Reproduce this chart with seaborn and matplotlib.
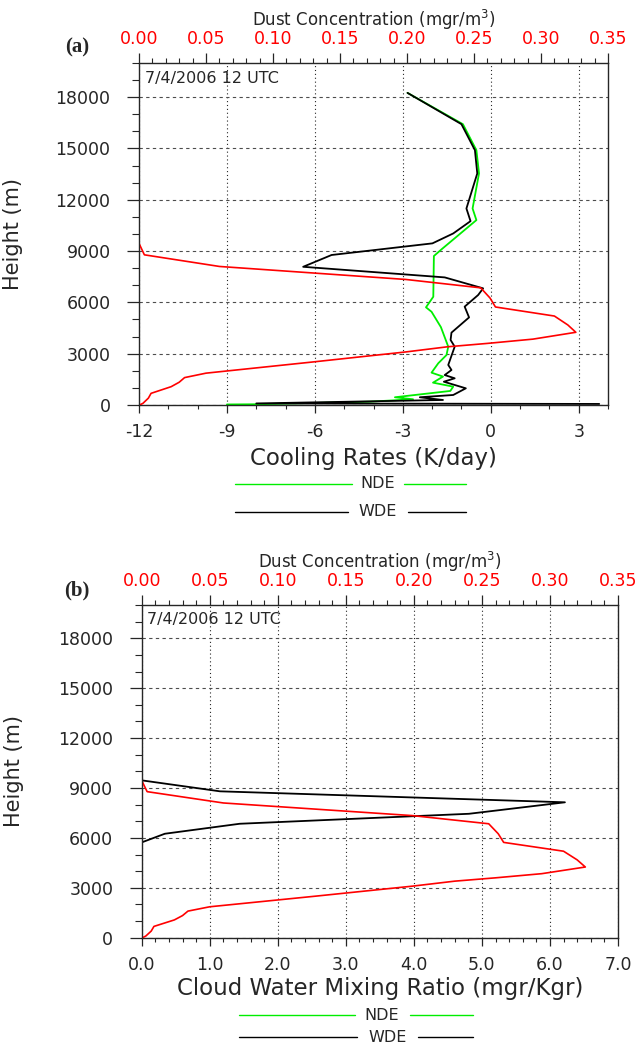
import matplotlib
matplotlib.use("Agg")
import matplotlib.pyplot as plt
from matplotlib.lines import Line2D
from matplotlib.ticker import MultipleLocator, FormatStrFormatter
import seaborn as sns

# ---- vertical profiles, 7/4/2006 12 UTC (height in metres) ----
# Cooling rates (K/day), no-dust experiment
nde_height = [18250, 16420, 14900, 13540, 11490, 10810, 9100, 8710, 6330, 5710,
              5450, 4550, 3410, 2920, 2440, 1890, 1660, 1305, 1071, 820,
              450, 333, 193, 41, 30]
nde_cooling = [-2.84, -0.95, -0.49, -0.40, -0.62, -0.49, -1.68, -1.94, -1.96, -2.21,
               -2.02, -1.70, -1.45, -1.51, -1.79, -2.02, -1.63, -1.97, -1.28, -1.38,
               -3.27, -2.65, -4.12, -7.99, -9.00]

# Cooling rates (K/day), with-dust experiment
wde_height = [18250, 16420, 14900, 13540, 11490, 10750, 10030, 9450, 8770, 8080,
              7460, 6820, 6430, 5750, 5120, 4230, 3800, 3410, 2340, 2045,
              1750, 1560, 1360, 974, 584, 450, 292, 90, 60]
wde_cooling = [-2.84, -1.00, -0.54, -0.46, -0.83, -0.69, -1.28, -1.99, -5.43, -6.40,
               -1.57, -0.26, -0.43, -0.89, -0.74, -1.34, -1.37, -1.23, -1.45, -1.34,
               -1.57, -1.23, -1.60, -0.85, -1.28, -2.42, -1.63, -8.00, 3.70]

# Dust concentration (mgr/m3)
dust_height = [18250, 9450, 8780, 8100, 7340, 6850, 6250, 5730, 5200, 4680,
               4250, 3850, 3600, 3400, 3100, 2500, 1860, 1600, 1330, 1070,
               680, 400, 100, 0]
dust_conc = [0.0, 0.0, 0.004, 0.060, 0.199, 0.255, 0.262, 0.266, 0.310, 0.320,
             0.326, 0.294, 0.260, 0.230, 0.199, 0.128, 0.050, 0.034, 0.030, 0.024,
             0.009, 0.007, 0.003, 0.0005]

# Cloud water mixing ratio (mgr/Kgr)
cw_nde_height = [18250, 0]
cw_nde = [0.0, 0.0]
cw_wde_height = [18250, 9460, 8800, 8140, 7450, 6850, 6250, 5730, 0]
cw_wde = [0.0, 0.0, 1.15, 6.22, 4.81, 1.44, 0.34, 0.0, 0.0]

height_ticks = [0, 3000, 6000, 9000, 12000, 15000, 18000]
cooling_ticks = [-12, -9, -6, -3, 0, 3]
cloud_ticks = [0, 1, 2, 3, 4, 5, 6, 7]
dust_ticks = [0.00, 0.05, 0.10, 0.15, 0.20, 0.25, 0.30, 0.35]
time_label = "7/4/2006 12 UTC"
panel_tags = ["(a)", "(b)"]
series_names = ["NDE", "WDE"]

GREEN = "#00ee00"
RED = "#ff0000"

sns.set_style("ticks")
plt.rcParams["font.family"] = ["DejaVu Sans"]
plt.rcParams["axes.unicode_minus"] = False

fig = plt.figure(figsize=(6.4, 10.44), dpi=100)

ax_a = fig.add_axes([0.2172, 0.6121, 0.7328, 0.3276])
ax_b = fig.add_axes([0.2214, 0.1018, 0.7442, 0.3187])

TICK_FS = 12.5


def style_panel(ax, xlim, xticks, xminor, xfmt, xlabel, xlabel_pad):
    ax.set_xlim(*xlim)
    ax.set_ylim(0, 20000)
    ax.set_xticks(xticks)
    ax.xaxis.set_minor_locator(MultipleLocator(xminor))
    ax.xaxis.set_major_formatter(FormatStrFormatter(xfmt))
    ax.set_yticks(height_ticks)
    ax.yaxis.set_minor_locator(MultipleLocator(1000))
    ax.tick_params(axis="x", which="major", direction="out", length=6, width=0.9,
                   pad=7, labelsize=TICK_FS, top=False)
    ax.tick_params(axis="x", which="minor", direction="out", length=3, width=0.8,
                   top=False)
    ax.tick_params(axis="y", which="major", direction="out", length=8.5, width=0.9,
                   pad=12, labelsize=TICK_FS, right=False)
    ax.tick_params(axis="y", which="minor", direction="out", length=5, width=0.8,
                   right=False)
    ax.xaxis.grid(True, which="major", linestyle=(0, (1, 2.5)), color="0.15",
                  linewidth=0.8)
    ax.yaxis.grid(True, which="major", linestyle=(0, (3, 3)), color="0.3",
                  linewidth=0.8)
    ax.set_axisbelow(True)
    for sp in ax.spines.values():
        sp.set_visible(True)
        sp.set_color("black")
        sp.set_linewidth(0.9)
    ax.set_xlabel(xlabel, fontsize=16.5, labelpad=xlabel_pad)
    ax.set_ylabel("Height (m)", fontsize=15)
    ax.yaxis.set_label_coords(-0.247, 0.5)
    ax.text(0.012, 0.955, time_label, transform=ax.transAxes, fontsize=11.5,
            ha="left", va="center")


def add_dust_axis(ax):
    ax2 = ax.twiny()
    sns.lineplot(x=dust_conc, y=dust_height, sort=False, estimator=None,
                 color=RED, linewidth=1.2, ax=ax2)
    ax2.set_xlim(0, 0.35)
    ax2.set_ylim(0, 20000)
    ax2.set_xticks(dust_ticks)
    ax2.xaxis.set_minor_locator(MultipleLocator(0.01))
    ax2.xaxis.set_major_formatter(FormatStrFormatter("%.2f"))
    ax2.tick_params(axis="x", which="major", direction="out", length=7, width=0.9,
                    pad=4, labelsize=TICK_FS, labelcolor=RED, top=True, bottom=False)
    ax2.tick_params(axis="x", which="minor", direction="out", length=3.5, width=0.8,
                    top=True, bottom=False)
    ax2.set_xlabel("Dust Concentration (mgr/m$^3$)", fontsize=12, labelpad=3)
    ax2.grid(False)
    return ax2


# ---- panel (a): cooling rates ----
sns.lineplot(x=nde_cooling, y=nde_height, sort=False, estimator=None,
             color=GREEN, linewidth=1.3, ax=ax_a)
sns.lineplot(x=wde_cooling, y=wde_height, sort=False, estimator=None,
             color="black", linewidth=1.3, ax=ax_a)
style_panel(ax_a, (-12, 4), cooling_ticks, 1, "%d", "Cooling Rates (K/day)", 4.5)
add_dust_axis(ax_a)

# ---- panel (b): cloud water ----
sns.lineplot(x=cw_nde, y=cw_nde_height, sort=False, estimator=None,
             color=GREEN, linewidth=1.3, ax=ax_b)
sns.lineplot(x=cw_wde, y=cw_wde_height, sort=False, estimator=None,
             color="black", linewidth=1.3, ax=ax_b)
style_panel(ax_b, (0, 7), cloud_ticks, 0.2, "%.1f",
            "Cloud Water Mixing Ratio (mgr/Kgr)", 2.5)
add_dust_axis(ax_b)

# panel tags
fig.text(77 / 640, 1 - 47 / 1044, panel_tags[0], fontsize=15, fontweight="bold",
         family="Liberation Serif", ha="center", va="center")
fig.text(77 / 640, 1 - 590 / 1044, panel_tags[1], fontsize=15, fontweight="bold",
         family="Liberation Serif", ha="center", va="center")


# line keys placed under each panel
def draw_key(y_px, x0, x1, x2, x3, xt, name, color):
    y = 1 - y_px / 1044
    for a, b in ((x0, x1), (x2, x3)):
        fig.add_artist(Line2D([a / 640, b / 640], [y, y], transform=fig.transFigure,
                              color=color, linewidth=1.0))
    fig.text(xt / 640, y, name, fontsize=11.5, ha="center", va="center")


draw_key(484, 235, 352, 404, 466, 378, series_names[0], GREEN)
draw_key(512, 235, 348, 408, 466, 378, series_names[1], "black")
draw_key(1015, 239, 355, 410, 473, 382, series_names[0], GREEN)
draw_key(1037, 239, 357, 418, 473, 388, series_names[1], "black")

fig.savefig("out.png", dpi=100, facecolor="white")
